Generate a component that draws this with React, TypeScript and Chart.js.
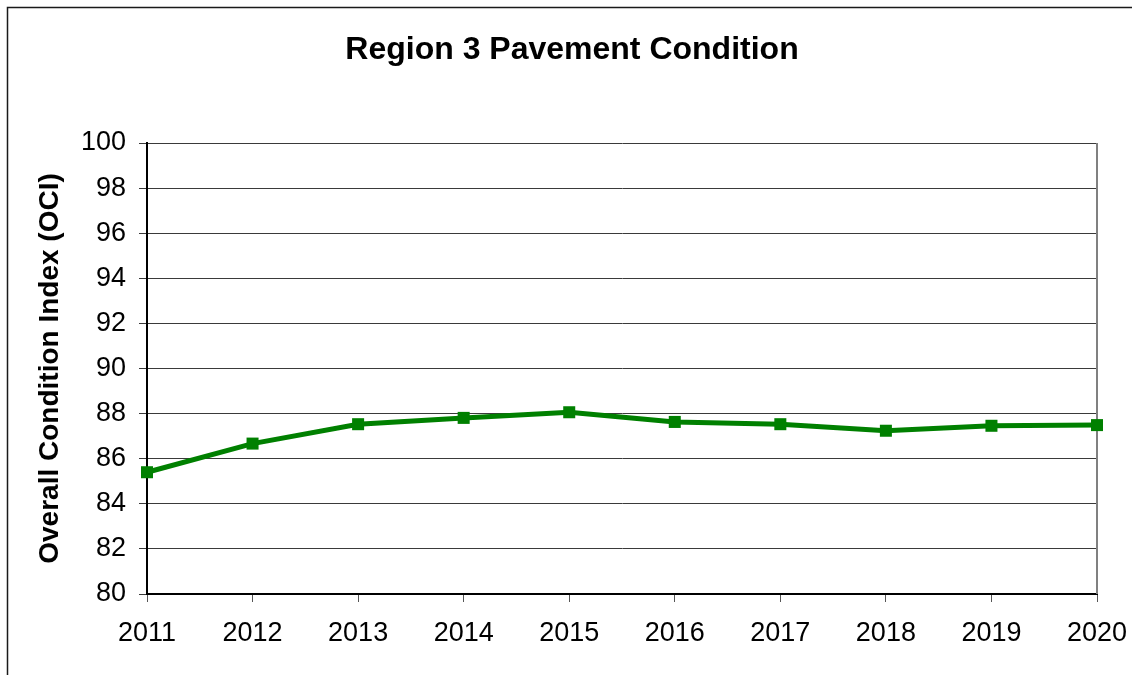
import React, { useEffect, useRef } from "react";
import { Chart, registerables } from "chart.js";

Chart.register(...registerables);

const TITLE = "Region 3 Pavement Condition";
const Y_TITLE = "Overall Condition Index (OCI)";
const YEARS = ["2011", "2012", "2013", "2014", "2015", "2016", "2017", "2018", "2019", "2020"];
const OCI = [85.4, 86.67, 87.53, 87.81, 88.06, 87.63, 87.53, 87.24, 87.46, 87.49];
const Y_MIN = 80;
const Y_MAX = 100;
const Y_STEP = 2;

const FONT = "'Liberation Sans', Arial, sans-serif";

const framePlugin = {
  id: "frame",
  beforeDraw(chart: any) {
    const { ctx, width, height } = chart;
    ctx.save();
    ctx.fillStyle = "#ffffff";
    ctx.fillRect(0, 0, width, height);
    ctx.strokeStyle = "#1a1a1a";
    ctx.lineWidth = 1.5;
    ctx.beginPath();
    ctx.moveTo(7.5, height);
    ctx.lineTo(7.5, 7.5);
    ctx.lineTo(width, 7.5);
    ctx.stroke();
    ctx.restore();
  },
  beforeDatasetsDraw(chart: any) {
    const { ctx, chartArea } = chart;
    ctx.save();
    ctx.strokeStyle = "#808080";
    ctx.lineWidth = 2;
    ctx.beginPath();
    ctx.moveTo(chartArea.right, chartArea.top);
    ctx.lineTo(chartArea.right, chartArea.bottom);
    ctx.stroke();
    ctx.restore();
  },
  afterDraw(chart: any) {
    const { ctx } = chart;
    ctx.save();
    ctx.fillStyle = "#000";
    ctx.font = `bold 32px ${FONT}`;
    ctx.textAlign = "center";
    ctx.textBaseline = "alphabetic";
    ctx.fillText(TITLE, 572, 59);
    ctx.restore();
  },
};

export default function App() {
  const ref = useRef<HTMLCanvasElement | null>(null);

  useEffect(() => {
    if (!ref.current) return;
    const chart = new Chart(ref.current, {
      type: "line",
      data: {
        labels: YEARS,
        datasets: [
          {
            data: OCI,
            borderColor: "#008000",
            backgroundColor: "#008000",
            borderWidth: 5,
            pointStyle: "rect",
            pointRadius: 8.5,
            pointBorderWidth: 0,
            pointBackgroundColor: "#008000",
            tension: 0,
            clip: false as any,
          },
        ],
      },
      options: {
        animation: false,
        responsive: false,
        devicePixelRatio: 1,
        layout: { padding: { left: 7, top: 143, right: 35, bottom: 0 } },
        plugins: {
          legend: { display: false },
          title: { display: false },
          tooltip: { enabled: false },
        },
        scales: {
          x: {
            type: "category",
            offset: false,
            afterFit(scale: any) {
              scale.height = 81;
              scale.paddingLeft = 0;
              scale.paddingRight = 0;
            },
            grid: {
              drawOnChartArea: false,
              drawTicks: true,
              tickLength: 8,
              color: "#555",
              lineWidth: 1,
            },
            border: { color: "#000", width: 2 },
            ticks: {
              color: "#000",
              font: { family: FONT, size: 27 },
              padding: 15,
              maxRotation: 0,
              autoSkip: false,
            },
          },
          y: {
            min: Y_MIN,
            max: Y_MAX,
            afterFit(scale: any) {
              scale.width = 140;
              scale.paddingTop = 0;
              scale.paddingBottom = 0;
            },
            grid: {
              color: "#3a3a3a",
              lineWidth: 1,
              tickLength: 8,
              drawTicks: true,
            },
            border: { color: "#000", width: 2 },
            ticks: {
              stepSize: Y_STEP,
              color: "#000",
              font: { family: FONT, size: 27 },
              padding: 13,
            },
            title: {
              display: true,
              text: Y_TITLE,
              color: "#000",
              font: { family: FONT, size: 28, weight: "bold" },
              padding: { top: 26, bottom: 0 },
            },
          },
        },
      },
      plugins: [framePlugin],
    });
    return () => chart.destroy();
  }, []);

  return (
    <div style={{ position: "fixed", left: 0, top: 0, width: 1132, height: 675, background: "#fff" }}>
      <canvas ref={ref} width={1132} height={675} style={{ display: "block" }} />
    </div>
  );
}
